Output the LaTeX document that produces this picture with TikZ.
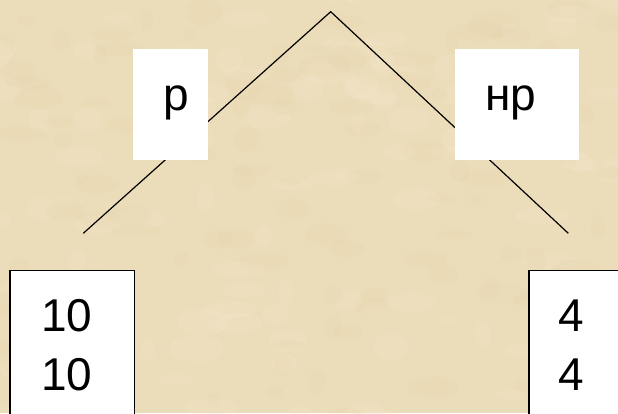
\documentclass[tikz,border=0pt]{standalone}
\usepackage{fontspec}
\setmainfont{Liberation Sans}
\definecolor{parch}{RGB}{236,221,186}
\definecolor{parchlight}{RGB}{244,231,203}
\definecolor{parchdark}{RGB}{226,207,166}
\tikzset{
  bigtext/.style={font=\fontsize{46}{58.3}\selectfont, inner sep=0pt, anchor=base, text=black},
  labelbox/.style={fill=white, draw=none, inner sep=0pt, anchor=north west},
  valbox/.style={fill=white, draw=black, line width=1.4pt, inner sep=0pt, anchor=north west},
  branch/.style={draw=black, line width=1.2pt}
}
\begin{document}
\begin{tikzpicture}[x=1pt,y=-1pt]
\path[use as bounding box] (0,0) rectangle (618,413);
\clip (0,0) rectangle (618,413);
\fill[parch] (0,0) rectangle (618,413);
\pgfmathsetseed{7}
\foreach \i in {1,...,220}{
  \pgfmathsetmacro{\px}{rnd*640-10}
  \pgfmathsetmacro{\py}{rnd*430-10}
  \pgfmathsetmacro{\rx}{6+rnd*22}
  \pgfmathsetmacro{\ry}{4+rnd*10}
  \pgfmathsetmacro{\tone}{rnd}
  \ifdim\tone pt>0.5pt
    \fill[parchlight, opacity=0.22] (\px,\py) ellipse ({\rx} and {\ry});
  \else
    \fill[parchdark, opacity=0.16] (\px,\py) ellipse ({\rx} and {\ry});
  \fi
}
% tree branches
\coordinate (apex) at (330.7,11.7);
\coordinate (lend) at (83.3,233.3);
\coordinate (rend) at (568.3,233.3);
\draw[branch] (lend) -- (apex) -- (rend);
% branch labels
\node[labelbox, minimum width=75pt, minimum height=111pt] (lbox) at (132.7,48.3) {};
\node[bigtext] (ltext) at (176.7,110) {р};
\node[labelbox, minimum width=123.7pt, minimum height=111pt] (rbox) at (455,48.3) {};
\node[bigtext] (rtext) at (511,110) {нр};
% value boxes
\node[valbox, minimum width=124.7pt, minimum height=170pt] (lval) at (9.3,270) {};
\node[bigtext] (lv1) at (66.7,331.7) {10};
\node[bigtext] (lv2) at (66.7,390) {10};
\node[valbox, minimum width=120pt, minimum height=170pt] (rval) at (528.3,270) {};
\node[bigtext] (rv1) at (571,331.7) {4};
\node[bigtext] (rv2) at (571,390) {4};
\end{tikzpicture}
\end{document}
